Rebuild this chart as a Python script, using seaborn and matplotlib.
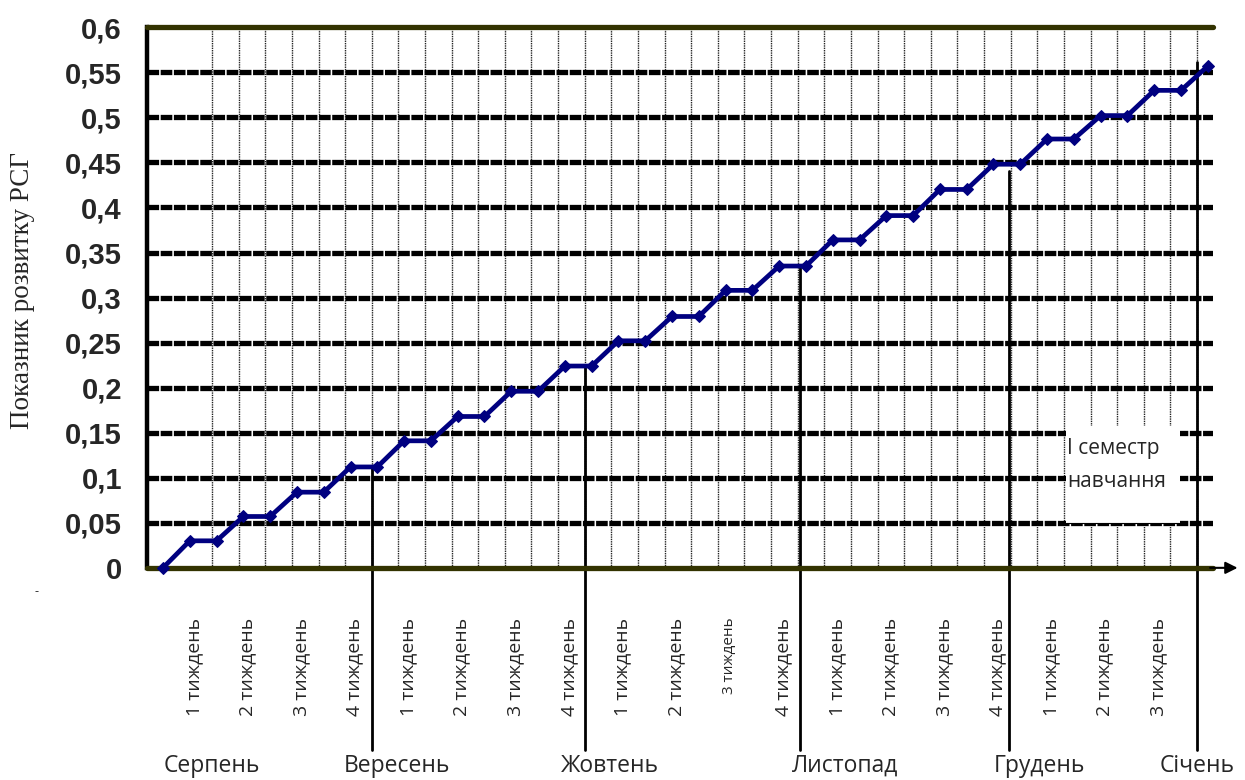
import numpy as np
import pandas as pd
import seaborn as sns
import matplotlib.pyplot as plt
from matplotlib.patches import Rectangle
from matplotlib.ticker import FixedLocator

# values (one point per half-week step)
point_idx = list(range(40))
rsg = [0, 0.030, 0.030, 0.057, 0.057, 0.084, 0.084, 0.112, 0.112, 0.141, 0.141,
       0.168, 0.168, 0.196, 0.196, 0.224, 0.224, 0.252, 0.252, 0.279, 0.279,
       0.308, 0.308, 0.335, 0.335, 0.364, 0.364, 0.391, 0.391, 0.420, 0.420,
       0.448, 0.448, 0.476, 0.476, 0.502, 0.502, 0.530, 0.530, 0.557]

week_labels = ['1 тиждень', '2 тиждень', '3 тиждень', '4 тиждень'] * 4 + \
              ['1 тиждень', '2 тиждень', '3 тиждень']
week_ticks = [1, 3, 5, 7, 9, 11, 13, 15, 17, 19, 21, 23, 25, 27, 29, 31, 33, 35, 37]

months = ['Серпень', 'Вересень', 'Жовтень', 'Листопад', 'Грудень', 'Січень']
month_x = [1.83, 8.73, 16.68, 25.45, 32.7, 38.6]

border_x = [7.8, 15.75, 23.77, 31.57, 38.58]
border_top = [0.113, 0.224, 0.335, 0.441, 0.561]

yticks = [0, 0.05, 0.1, 0.15, 0.2, 0.25, 0.3, 0.35, 0.4, 0.45, 0.5, 0.55, 0.6]
ytick_labels = ['0', '0,05', '0,1', '0,15', '0,2', '0,25', '0,3', '0,35', '0,4',
                '0,45', '0,5', '0,55', '0,6']

df = pd.DataFrame({'idx': point_idx, 'rsg': rsg})

# %%
sns.set_style('white')
plt.rcParams['font.family'] = ['Open Sans', 'DejaVu Sans']

fig = plt.figure(figsize=(12.45, 7.8), dpi=100)
ax = fig.add_axes([0.118, 0.272, 0.856, 0.693])

# horizontal dashed grid
for v in yticks[1:-1]:
    ax.axhline(v, color='black', lw=3.8, ls=(0, (2.2, 0.3)), zorder=1)
for v in [0, 0.6]:
    ax.axhline(v, color='#333300', lw=3.8, zorder=3, clip_on=False)

# thin vertical grid
ax.xaxis.set_minor_locator(FixedLocator(np.linspace(1.83, 38.6, 38)))
ax.grid(which='minor', axis='x', color='#222222', lw=1.0, ls=(0, (1, 0.7)), zorder=0)
ax.tick_params(axis='x', which='minor', length=0)

# month separator lines
for bx, bt in zip(border_x, border_top):
    ax.plot([bx, bx], [bt, -0.202], color='black', lw=2, clip_on=False, zorder=2)

# white box with the note
ax.add_patch(Rectangle((33.7, 0.05), 4.25, 0.107, facecolor='white',
                       edgecolor='none', zorder=2.5))
ax.plot([33.7, 37.95], [0.05, 0.05], color='black', lw=0.8, zorder=2.6)
ax.text(33.75, 0.144, 'І семестр\nнавчання', fontsize=15, va='top', ha='left',
        linespacing=1.75, zorder=2.7)

sns.lineplot(data=df, x='idx', y='rsg', ax=ax, color='#000080', lw=3.4,
             marker='D', markersize=6.5, markeredgecolor='#000080', zorder=4,
             clip_on=False)

ax.set_xlim(-0.6, 39.18)
ax.set_ylim(0, 0.6)

ax.set_xticks([t + 0.15 for t in week_ticks])
ax.set_xticklabels(week_labels, rotation=90, fontsize=14)
ax.tick_params(axis='x', which='major', length=0, pad=36)
ax.get_xticklabels()[10].set_fontsize(11)

ax.set_yticks(yticks)
ax.set_yticklabels(ytick_labels, fontsize=21, fontweight='bold',
                   family='Liberation Sans')
ax.tick_params(axis='y', length=5, width=3, pad=13, color='black', direction='out')

for s in ['top', 'right', 'bottom']:
    ax.spines[s].set_visible(False)
ax.spines['left'].set_linewidth(3.2)
ax.spines['left'].set_color('black')

ax.set_xlabel('')
ax.set_ylabel('Показник розвитку РСГ', fontsize=19.5, family='Liberation Serif')
ax.yaxis.set_label_coords(-0.105, 0.514)

for m, mx in zip(months, month_x):
    ax.text(mx, -0.366, m, fontsize=16.5, ha='center', va='center',
            transform=ax.get_xaxis_transform())

# x-axis arrow
ax.annotate('', xy=(1.026, 0), xytext=(0.995, 0), xycoords='axes fraction',
            arrowprops=dict(arrowstyle='-|>', color='black', lw=1.5,
                            mutation_scale=18))

fig.text(0.028, 0.237, '-', fontsize=9)

fig.savefig('out.png', dpi=100)
